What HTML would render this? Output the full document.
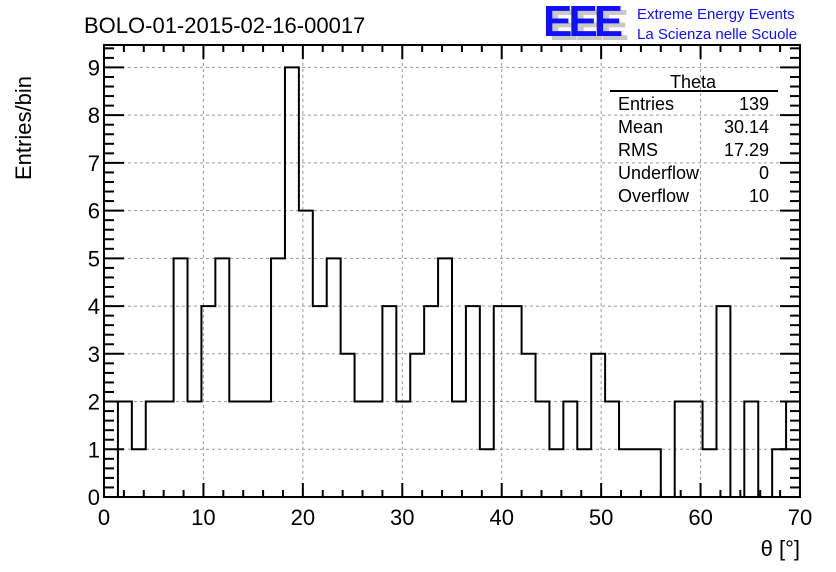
<!DOCTYPE html>
<html><head><meta charset="utf-8"><style>
html,body{margin:0;padding:0;background:#fff;}
svg{display:block;font-family:"Liberation Sans",sans-serif;}
</style></head><body>
<svg id="c" width="836" height="572" viewBox="0 0 836 572">
<text x="84" y="33" font-size="22">BOLO-01-2015-02-16-00017</text>
<g>
<text x="549" y="40" font-size="44" fill="#c8c8c8" font-weight="bold" letter-spacing="-4">EEE</text>
<text x="543" y="36" font-size="44" fill="#1010ff" font-weight="bold" letter-spacing="-4">EEE</text>
<text x="637" y="19" font-size="15" fill="#1010ff">Extreme Energy Events</text>
<text x="637" y="39" font-size="15" fill="#1010ff">La Scienza nelle Scuole</text>
</g>
<g id="grid"></g>
<path id="hist" fill="none" stroke="#000" stroke-width="2"></path>
<g id="axes"></g>
<g font-size="18">
<text x="693" y="88" text-anchor="middle">Theta</text>
<line x1="610" y1="91" x2="778" y2="91" stroke="#000" stroke-width="2"/>
<text x="618" y="110">Entries</text><text x="769" y="110" text-anchor="end">139</text>
<text x="618" y="133">Mean</text><text x="769" y="133" text-anchor="end">30.14</text>
<text x="618" y="156">RMS</text><text x="769" y="156" text-anchor="end">17.29</text>
<text x="618" y="179">Underflow</text><text x="769" y="179" text-anchor="end">0</text>
<text x="618" y="202">Overflow</text><text x="769" y="202" text-anchor="end">10</text>
</g>
<text x="800" y="556" font-size="22" text-anchor="end">θ [°]</text>
<text transform="translate(31,180) rotate(-90)" font-size="22">Entries/bin</text>
</svg>
<script>
const binCounts=[0,2,1,2,2,5,2,4,5,2,2,2,5,9,6,4,5,3,2,2,4,2,3,4,5,2,4,1,4,4,3,2,1,2,1,3,2,1,1,1,0,2,2,1,4,0,2,0,1,2];
const xTicks=[0,10,20,30,40,50,60,70];
const yTicks=[0,1,2,3,4,5,6,7,8,9];
const xMin=0,xMax=70,yMin=0,yMax=9.47;
const L=104,R=800,T=45,B=497;
const sx=v=>L+(v-xMin)/(xMax-xMin)*(R-L);
const sy=v=>B-(v-yMin)/(yMax-yMin)*(B-T);
const NS="http://www.w3.org/2000/svg";
function mk(tag,attrs,parent){const e=document.createElementNS(NS,tag);for(const k in attrs)e.setAttribute(k,attrs[k]);parent.appendChild(e);return e;}
const grid=document.getElementById('grid'),axes=document.getElementById('axes');
xTicks.forEach(t=>{if(t>xMin&&t<xMax){const g=mk('line',{x1:sx(t),x2:sx(t),y1:T,y2:B,stroke:'#999','stroke-dasharray':'3,3'},grid);

}});
yTicks.forEach(t=>{if(t>yMin){const g=mk('line',{x1:L,x2:R,y1:sy(t),y2:sy(t),stroke:'#999','stroke-dasharray':'3,3'},grid);

}});
const bw=(xMax-xMin)/binCounts.length;
let d='M'+sx(0)+','+sy(0);
binCounts.forEach((c,i)=>{d+=' L'+sx(i*bw)+','+sy(c)+' L'+sx((i+1)*bw)+','+sy(c);});
d+=' L'+sx(xMax)+','+sy(0);
document.getElementById('hist').setAttribute('d',d);
mk('rect',{x:L,y:T,width:R-L,height:B-T,fill:'none',stroke:'#000','stroke-width':2},axes);
for(let v=0;v<=70;v+=2){const big=v%10===0;const h=big?14:7;
mk('line',{x1:sx(v),x2:sx(v),y1:B,y2:B-h,stroke:'#000','stroke-width':2},axes);
mk('line',{x1:sx(v),x2:sx(v),y1:T,y2:T+h,stroke:'#000','stroke-width':2},axes);}
for(let v=0;v<=9.4;v+=0.2){const big=Math.abs(v-Math.round(v))<1e-6;const w=big?20:10;
mk('line',{x1:L,x2:L+w,y1:sy(v),y2:sy(v),stroke:'#000','stroke-width':2},axes);
mk('line',{x1:R,x2:R-w,y1:sy(v),y2:sy(v),stroke:'#000','stroke-width':2},axes);}
xTicks.forEach(t=>{const e=mk('text',{x:sx(t),y:B+28,'font-size':22,'text-anchor':'middle'},axes);e.textContent=t;

});
yTicks.forEach(t=>{const e=mk('text',{x:L-4,y:sy(t)+8,'font-size':22,'text-anchor':'end'},axes);e.textContent=t;

});
</script>
</body></html>
